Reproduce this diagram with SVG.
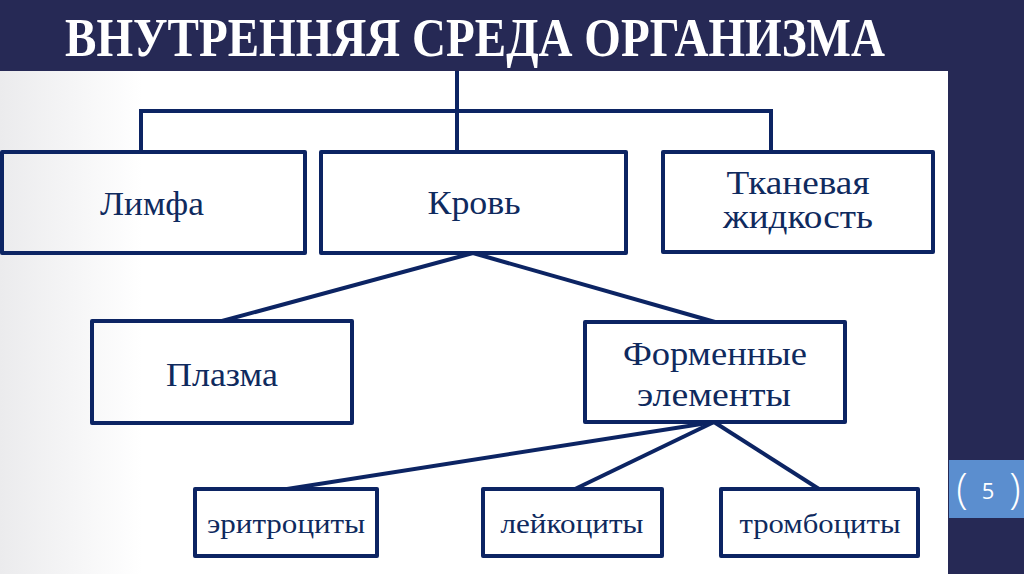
<svg xmlns="http://www.w3.org/2000/svg" width="1024" height="574" viewBox="0 0 1024 574">
<defs>
<linearGradient id="panelGrad" x1="0" y1="0" x2="1" y2="0">
<stop offset="0" stop-color="#ebebed"/>
<stop offset="0.15" stop-color="#ffffff"/>
<stop offset="1" stop-color="#ffffff"/>
</linearGradient>
<style>
.box{fill:none;stroke:#0c2463;stroke-width:4;stroke-linejoin:round}
.con{fill:none;stroke:#0c2463;stroke-width:4;stroke-linecap:butt}
.lbl{font-family:"Liberation Serif","DejaVu Serif",serif;font-size:33px;fill:#0f2a5e;text-anchor:middle}
.sm{font-size:28px}
.title{font-family:"Liberation Serif","DejaVu Serif",serif;font-weight:bold;font-size:55px;fill:#ffffff}
</style>
</defs>
<rect x="0" y="0" width="1024" height="574" fill="#262955"/>
<rect x="0" y="71" width="948" height="503" fill="url(#panelGrad)"/>
<text class="title" x="65" y="56" textLength="820" lengthAdjust="spacingAndGlyphs">ВНУТРЕННЯЯ СРЕДА ОРГАНИЗМА</text>
<g id="page-number">
<rect x="949" y="460" width="75" height="58" fill="#5b8ecf"/>
<text x="962" y="503" font-family="'Open Sans','Liberation Sans',sans-serif" font-size="42" font-weight="300" fill="#ffffff" text-anchor="middle">(</text>
<text x="988" y="499" font-family="'Open Sans','Liberation Sans',sans-serif" font-size="22" fill="#ffffff" text-anchor="middle">5</text>
<text x="1015" y="503" font-family="'Open Sans','Liberation Sans',sans-serif" font-size="42" font-weight="300" fill="#ffffff" text-anchor="middle">)</text>
</g>
<g id="connectors">
<line class="con" x1="457" y1="71" x2="457" y2="152"/>
<polyline class="con" points="141,152 141,111 771,111 771,152"/>
<line class="con" x1="473" y1="253" x2="222" y2="321"/>
<line class="con" x1="473" y1="253" x2="715" y2="322"/>
<line class="con" x1="714" y1="422" x2="287" y2="489"/>
<line class="con" x1="714" y1="422" x2="575" y2="489"/>
<line class="con" x1="714" y1="422" x2="819" y2="489"/>
</g>
<g id="limfa">
<rect class="box" x="2" y="152" width="303" height="101"/>
<text class="lbl" x="152" y="215" textLength="104" lengthAdjust="spacingAndGlyphs">Лимфа</text>
</g>
<g id="krov">
<rect class="box" x="321" y="152" width="305" height="101"/>
<text class="lbl" x="474" y="214" textLength="93" lengthAdjust="spacingAndGlyphs">Кровь</text>
</g>
<g id="tkanevaya">
<rect class="box" x="663" y="152" width="270" height="100"/>
<text class="lbl" x="798" y="194" textLength="143" lengthAdjust="spacingAndGlyphs">Тканевая</text>
<text class="lbl" x="798" y="228" textLength="150" lengthAdjust="spacingAndGlyphs">жидкость</text>
</g>
<g id="plazma">
<rect class="box" x="92" y="321" width="260" height="102"/>
<text class="lbl" x="222" y="386" textLength="112" lengthAdjust="spacingAndGlyphs">Плазма</text>
</g>
<g id="formennye">
<rect class="box" x="585" y="322" width="260" height="100"/>
<text class="lbl" x="715" y="365" textLength="184" lengthAdjust="spacingAndGlyphs">Форменные</text>
<text class="lbl" x="714" y="406" textLength="154" lengthAdjust="spacingAndGlyphs">элементы</text>
</g>
<g id="eritrotsity">
<rect class="box" x="195" y="489" width="182" height="67"/>
<text class="lbl sm" x="286" y="533" textLength="158" lengthAdjust="spacingAndGlyphs">эритроциты</text>
</g>
<g id="leykotsity">
<rect class="box" x="483" y="489" width="179" height="67"/>
<text class="lbl sm" x="572" y="533" textLength="143" lengthAdjust="spacingAndGlyphs">лейкоциты</text>
</g>
<g id="trombotsity">
<rect class="box" x="721" y="489" width="197" height="67"/>
<text class="lbl sm" x="820" y="533" textLength="161" lengthAdjust="spacingAndGlyphs">тромбоциты</text>
</g>
</svg>
